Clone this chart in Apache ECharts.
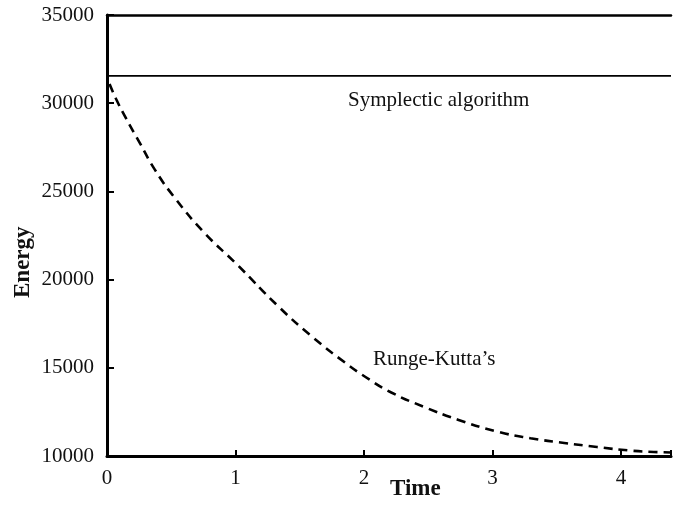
<!DOCTYPE html>
<html>
<head>
<meta charset="utf-8">
<script src="https://cdn.jsdelivr.net/npm/echarts@6/dist/echarts.min.js"></script>
<style>
  html, body { margin: 0; padding: 0; background: #fff; }
  #chart { width: 674px; height: 505px; }
</style>
</head>
<body>
<div id="chart"></div>
<script>
// Energy over time for two integrators
const rkTime = [0.02, 0.07, 0.14, 0.255, 0.371, 0.526, 0.758, 1.006, 1.338, 1.594, 1.857, 2.012, 2.213, 2.476, 2.731, 3.04, 3.296, 3.559, 3.814, 4.07, 4.255, 4.39];
const rkEnergy = [31090, 30250, 29250, 27750, 26250, 24650, 22650, 20900, 18450, 16780, 15270, 14480, 13600, 12760, 12060, 11380, 11010, 10740, 10510, 10310, 10230, 10200];
const sympTime = [0, 4.39];
const sympEnergy = [31550, 31550];
const xTicks = [0, 1, 2, 3, 4];
const yTicks = [10000, 15000, 20000, 25000, 30000, 35000];

const serif = '"Liberation Serif", "DejaVu Serif", serif';
const zip = (a, b) => a.map((v, i) => [v, b[i]]);

const chart = echarts.init(document.getElementById('chart'));
chart.setOption({
  animation: false,
  backgroundColor: '#fff',
  grid: { left: 107, top: 15, right: 0, bottom: 49 },
  xAxis: [{
    type: 'value', min: 0, max: 4.39, interval: 1,
    axisLine: { lineStyle: { color: '#000', width: 3 } },
    axisTick: { inside: true, length: 6, lineStyle: { color: '#000', width: 2 } },
    axisLabel: {
      margin: 12, color: '#111', fontFamily: serif, fontSize: 21,
      formatter: v => xTicks.includes(v) ? String(v) : ''
    },
    splitLine: { show: false }
  }, {
    type: 'value', position: 'top', min: 0, max: 4.39,
    axisLine: { show: true, lineStyle: { color: '#000', width: 2.5 } },
    axisTick: { show: false }, axisLabel: { show: false }, splitLine: { show: false }
  }],
  yAxis: {
    type: 'value', min: 10000, max: 35000, interval: 5000,
    axisLine: { show: true, lineStyle: { color: '#000', width: 3 } },
    axisTick: { show: true, inside: true, length: 7, lineStyle: { color: '#000', width: 2 } },
    axisLabel: {
      margin: 13, color: '#111', fontFamily: serif, fontSize: 21, padding: [4, 0, 0, 0],
      formatter: v => yTicks.includes(v) ? String(v) : ''
    },
    splitLine: { show: false }
  },
  series: [{
    type: 'line', name: 'Symplectic algorithm',
    data: zip(sympTime, sympEnergy),
    symbol: 'none',
    lineStyle: { color: '#000', width: 1.6 }
  }, {
    type: 'line', name: "Runge-Kutta's",
    data: zip(rkTime, rkEnergy),
    symbol: 'none', smooth: 0.5,
    lineStyle: { color: '#000', width: 2.6, type: [9, 6] }
  }],
  graphic: [
    { type: 'text', left: 348, top: 90, style: { text: 'Symplectic algorithm', font: '21px ' + serif, fill: '#111' } },
    { type: 'text', left: 373, top: 349, style: { text: 'Runge-Kutta\u2019s', font: '21px ' + serif, fill: '#111' } },
    { type: 'text', left: 390, top: 478, style: { text: 'Time', font: 'bold 23px ' + serif, fill: '#111' } },
    { type: 'text', x: 12, y: 298, rotation: Math.PI / 2, style: { text: 'Energy', font: 'bold 23px ' + serif, fill: '#111', verticalAlign: 'top' } }
  ]
});
</script>
</body>
</html>
